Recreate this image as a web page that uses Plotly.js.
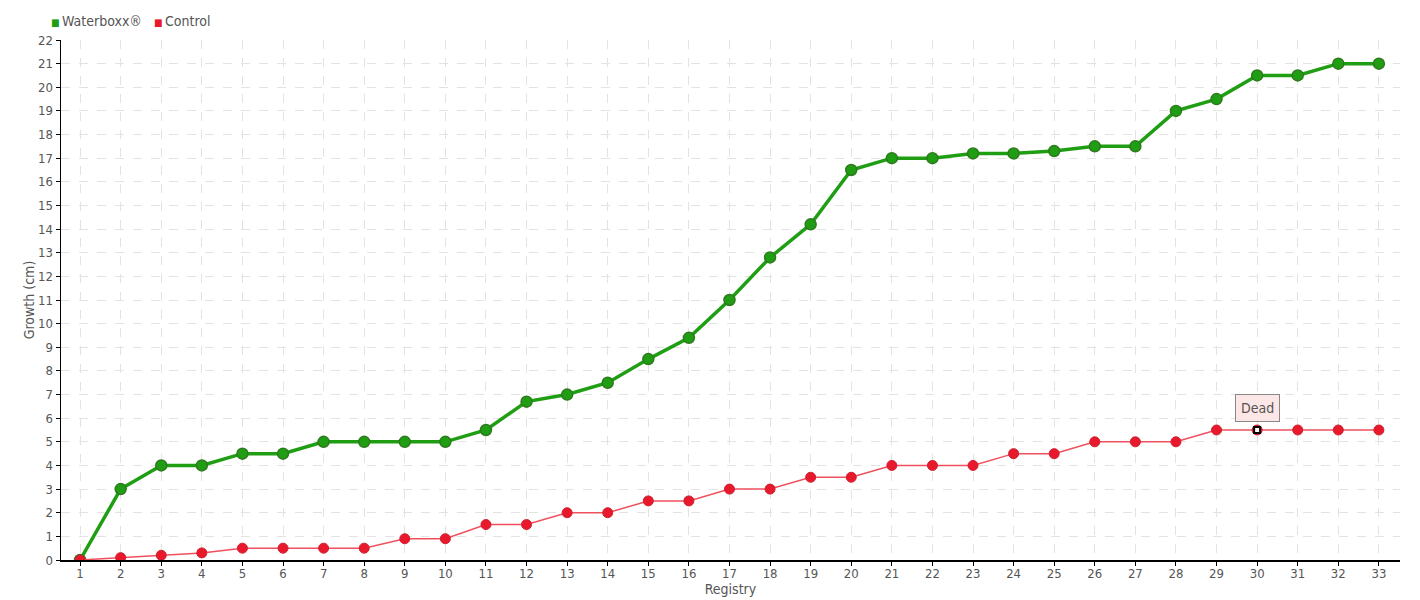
<!DOCTYPE html>
<html><head><meta charset="utf-8">
<script src="https://cdn.plot.ly/plotly-3.0.1.min.js"></script>
<style>html,body{margin:0;padding:0;background:#fff}#c{width:1420px;height:600px}</style>
</head><body><div id="c"></div>
<script>
const registry = Array.from({length:33},(_,i)=>i+1);
const waterboxx = [0,3,4,4,4.5,4.5,5,5,5,5,5.5,6.7,7,7.5,8.5,9.4,11,12.8,14.2,16.5,17,17,17.2,17.2,17.3,17.5,17.5,19,19.5,20.5,20.5,21,21];
const control = [0,0.1,0.2,0.3,0.5,0.5,0.5,0.5,0.9,0.9,1.5,1.5,2,2,2.5,2.5,3,3,3.5,3.5,4,4,4,4.5,4.5,5,5,5,5.5,5.5,5.5,5.5,5.5];
const seriesNames = ["Waterboxx®", "Control"];
const seriesColors = ["#1f9e14", "#e8192c"];
const deadIndex = 29;
const deadLabel = "Dead";
const yTicks = Array.from({length:23},(_,i)=>i);

const FAM = "DejaVu Sans Condensed, sans-serif";
const font = {family:FAM, size:13, color:"#555"};

const traces = [
  {x:registry, y:waterboxx, name:seriesNames[0], type:"scatter", mode:"lines+markers",
   line:{color:seriesColors[0], width:3.5},
   marker:{color:seriesColors[0], size:11, line:{color:"#2f7a1e", width:1.5}}},
  {x:registry, y:control, name:seriesNames[1], type:"scatter", mode:"lines+markers",
   line:{color:"#f0505e", width:1.5},
   marker:{color:seriesColors[1], size:10, line:{color:"#d0202e", width:1}}},
  {x:[registry[deadIndex]], y:[control[deadIndex]], type:"scatter", mode:"markers",
   marker:{symbol:"square", color:"#fff", size:6, line:{color:"#000", width:2}}, hoverinfo:"skip"}
];

const legendText = seriesNames.map((n,i)=>
  '<span style="color:'+seriesColors[i]+';font-size:10px">■</span>\u2009'+n).join('\u00a0\u00a0\u00a0');

const layout = {
  width:1420, height:600,
  margin:{l:61, r:20, t:40, b:40, autoexpand:false},
  paper_bgcolor:"#fff", plot_bgcolor:"#fff",
  font:font,
  showlegend:false,
  xaxis:{range:[0.53,33.52], tickmode:"array", tickvals:registry, ticktext:registry.map(String),
         showgrid:true, gridcolor:"#e3e3e3", griddash:"dash", gridwidth:1,
         showline:true, linecolor:"#000", linewidth:1.5, ticks:"outside", ticklen:4, tickcolor:"#000",
         zeroline:false, automargin:false, ticklabelstandoff:-3, tickfont:{family:FAM,size:13,color:"#555"},
         title:{text:"Registry", font:{family:FAM,size:14,color:"#555"}, standoff:0}},
  yaxis:{range:[0,22], tickmode:"array", tickvals:yTicks,
         showgrid:true, gridcolor:"#e3e3e3", griddash:"dash", gridwidth:1,
         showline:true, linecolor:"#000", linewidth:1.5, ticks:"outside", ticklen:4, tickcolor:"#000",
         zeroline:false, automargin:false, tickfont:{family:FAM,size:13,color:"#555"},
         title:{text:"Growth (cm)", font:{family:FAM,size:14,color:"#555"}, standoff:0}},
  annotations:[
   {x:registry[deadIndex], y:control[deadIndex], text:deadLabel, showarrow:false,
    yanchor:"bottom", yshift:8, bgcolor:"#fde6e6", bordercolor:"#888", borderwidth:1, borderpad:5,
    font:{family:FAM,size:14,color:"#555"}},
   {xref:"paper", yref:"paper", x:-12/1339, y:1+19/520, xanchor:"left", yanchor:"middle",
    showarrow:false, text:legendText, font:{family:FAM,size:14,color:"#555"}}
  ]
};
Plotly.newPlot("c", traces, layout, {displayModeBar:false, staticPlot:true});
</script></body></html>
